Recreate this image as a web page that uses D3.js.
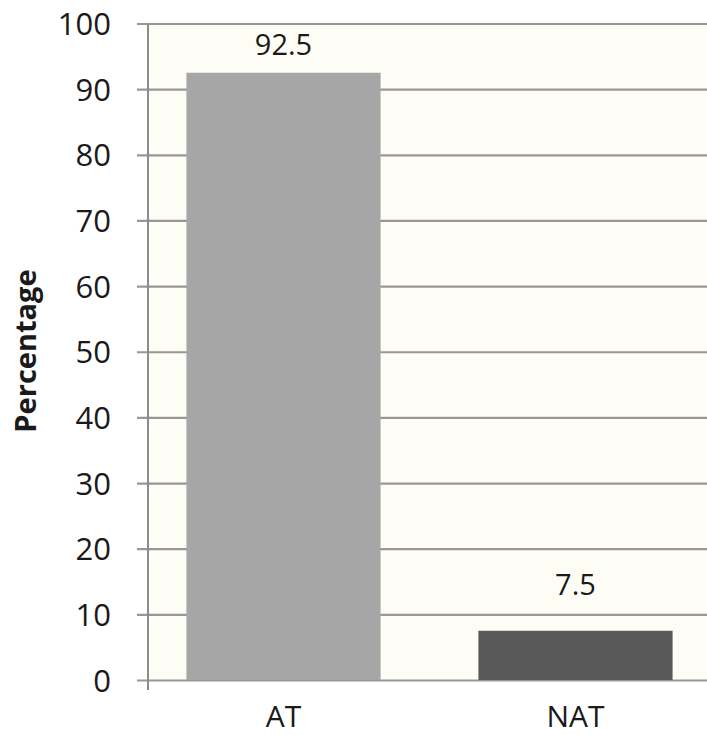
<!DOCTYPE html>
<html>
<head>
<meta charset="utf-8">
<script src="https://cdn.jsdelivr.net/npm/d3@7/dist/d3.min.js"></script>
<style>
  html, body { margin: 0; padding: 0; background: #ffffff; }
  svg { display: block; }
  text { font-family: "Open Sans", "Noto Sans", sans-serif; fill: #1a1a1a; }
</style>
</head>
<body>
<svg id="chart" width="707" height="735"></svg>
<script>
// Share of responses per group
const categories = ["AT", "NAT"];
const values = [92.5, 7.5];
const valueLabels = ["92.5", "7.5"];
const barColors = ["#a6a6a6", "#595959"];
const yTicks = [0, 10, 20, 30, 40, 50, 60, 70, 80, 90, 100];
const yTitle = "Percentage";

const plot = { left: 148, right: 707, top: 23.5, bottom: 680 };

const svg = d3.select("#chart");

const y = d3.scaleLinear().domain([0, 100]).range([plot.bottom, plot.top]);
const x = d3.scaleBand()
  .domain(categories)
  .range([137.5, 721.5])
  .paddingInner(0.335)
  .paddingOuter(0.1675);

// plot background
svg.append("rect")
  .attr("x", plot.left).attr("y", plot.top)
  .attr("width", plot.right - plot.left).attr("height", plot.bottom - plot.top)
  .attr("fill", "#fdfdf5");

// gridlines + y axis
const yAxis = d3.axisLeft(y)
  .tickValues(yTicks)
  .tickSize(plot.right - plot.left + 11)
  .tickPadding(26)
  .tickFormat(d3.format("d"));

const gy = svg.append("g")
  .attr("transform", `translate(${plot.right},0)`)
  .call(yAxis);
gy.select(".domain").remove();
gy.selectAll(".tick line").attr("stroke", "#979797").attr("stroke-width", 2.2);
gy.selectAll(".tick text")
  .attr("x", -(plot.right - plot.left) - 37)
  .attr("font-size", 31)
  .attr("font-weight", 500)
  .attr("fill", "#1a1a1a")
  .attr("dy", "0.36em");

// bars
svg.append("g").selectAll("rect")
  .data(categories)
  .join("rect")
  .attr("x", d => x(d))
  .attr("width", x.bandwidth())
  .attr("y", (d, i) => y(values[i]))
  .attr("height", (d, i) => y(0) - y(values[i]))
  .attr("fill", (d, i) => barColors[i]);

// vertical axis line
svg.append("line")
  .attr("x1", plot.left).attr("x2", plot.left)
  .attr("y1", plot.top).attr("y2", plot.bottom + 10)
  .attr("stroke", "#8c8c8c").attr("stroke-width", 2);

// value labels above bars
svg.append("g").selectAll("text")
  .data(categories)
  .join("text")
  .attr("x", d => x(d) + x.bandwidth() / 2)
  .attr("y", (d, i) => Math.max(y(values[i]) - 36, y(100) + 31.5))
  .attr("text-anchor", "middle")
  .attr("font-size", 29)
  .attr("font-weight", 500)
  .text((d, i) => valueLabels[i]);

// category labels
svg.append("g").selectAll("text")
  .data(categories)
  .join("text")
  .attr("x", d => x(d) + x.bandwidth() / 2)
  .attr("y", 727)
  .attr("text-anchor", "middle")
  .attr("font-size", 30)
  .attr("font-weight", 500)
  .text(d => d);

// y title
svg.append("text")
  .attr("transform", `translate(36,351) rotate(-90)`)
  .attr("text-anchor", "middle")
  .attr("font-size", 29)
  .attr("font-weight", "bold")
  .text(yTitle);
</script>
</body>
</html>
